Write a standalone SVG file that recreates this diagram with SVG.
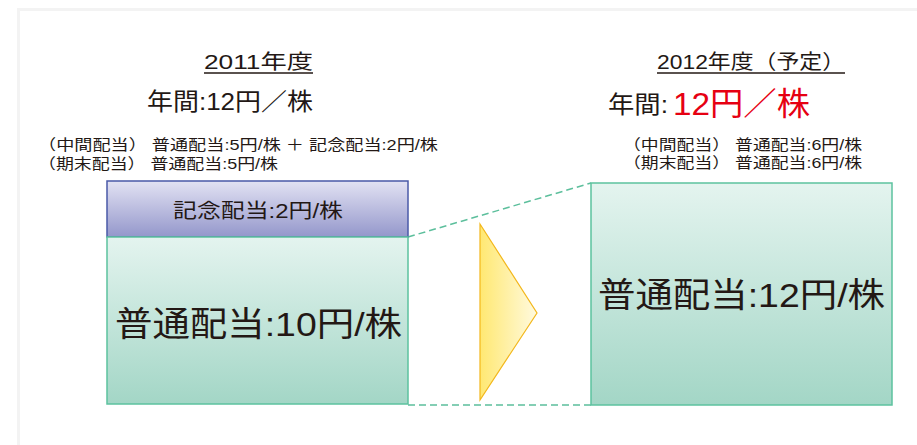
<svg xmlns="http://www.w3.org/2000/svg" width="917" height="445" viewBox="0 0 917 445">
  <defs>
    <linearGradient id="gPurple" x1="0" y1="0" x2="0" y2="1">
      <stop offset="0" stop-color="#e2e2f3"/>
      <stop offset="1" stop-color="#9497cb"/>
    </linearGradient>
    <linearGradient id="gGreen" x1="0" y1="0" x2="0" y2="1">
      <stop offset="0" stop-color="#e4f4ef"/>
      <stop offset="1" stop-color="#a3d6c6"/>
    </linearGradient>
    <linearGradient id="gYellow" x1="0" y1="0" x2="1" y2="0">
      <stop offset="0" stop-color="#ffe872"/>
      <stop offset="1" stop-color="#fffadf"/>
    </linearGradient>
    <style>
      text { font-family: "Liberation Sans", "Noto Sans CJK JP", sans-serif; fill: #231815; }
      .red { fill: #e60012; }
      .ul { stroke: #231815; stroke-width: 1.6; }
      .green { fill: url(#gGreen); stroke: #5cc29f; stroke-width: 1.5; }
      .purple { fill: url(#gPurple); stroke: #4a5aa8; stroke-width: 1.5; }
      .dash { stroke: #5cbf9c; stroke-width: 1.5; stroke-dasharray: 7 4; fill: none; }
    </style>
  </defs>

  <rect x="0" y="0" width="917" height="445" fill="#ffffff"/>
  <rect x="17" y="8" width="900" height="437" fill="#f3f3f3"/>
  <rect x="20" y="11" width="897" height="434" fill="#ffffff"/>

  <g id="title-2011">
    <text x="204" y="69" font-size="20" textLength="109" lengthAdjust="spacingAndGlyphs">2011年度</text>
    <line class="ul" x1="204" y1="73" x2="313" y2="73"/>
    <text x="147" y="110" font-size="24" textLength="166" lengthAdjust="spacingAndGlyphs">年間:12円／株</text>
    <text x="38" y="150" font-size="15" textLength="400" lengthAdjust="spacingAndGlyphs">（中間配当） 普通配当:5円/株 ＋ 記念配当:2円/株</text>
    <text x="38" y="169" font-size="15" textLength="240" lengthAdjust="spacingAndGlyphs">（期末配当） 普通配当:5円/株</text>
  </g>

  <g id="title-2012">
    <text x="657" y="69" font-size="20" textLength="188" lengthAdjust="spacingAndGlyphs">2012年度（予定）</text>
    <line class="ul" x1="657" y1="73" x2="845" y2="73"/>
    <text x="608" y="113" font-size="24" textLength="60" lengthAdjust="spacingAndGlyphs">年間:</text>
    <text class="red" x="673" y="115" font-size="32" textLength="137" lengthAdjust="spacingAndGlyphs">12円／株</text>
    <text x="623" y="150" font-size="15" textLength="239" lengthAdjust="spacingAndGlyphs">（中間配当） 普通配当:6円/株</text>
    <text x="623" y="168" font-size="15" textLength="239" lengthAdjust="spacingAndGlyphs">（期末配当） 普通配当:6円/株</text>
  </g>

  <g id="connectors">
    <line class="dash" x1="408" y1="237" x2="591" y2="183"/>
    <line class="dash" x1="408" y1="405" x2="591" y2="405"/>
  </g>

  <g id="box-kinen-2011">
    <rect class="purple" x="107" y="181" width="301" height="56"/>
    <text x="173" y="218" font-size="20" textLength="170" lengthAdjust="spacingAndGlyphs">記念配当:2円/株</text>
  </g>

  <g id="box-futsu-2011">
    <rect class="green" x="107" y="237" width="301" height="167"/>
    <text x="115" y="336" font-size="34" textLength="287" lengthAdjust="spacingAndGlyphs">普通配当:10円/株</text>
  </g>

  <g id="arrow">
    <polygon points="480,224 537,313 480,400" fill="url(#gYellow)" stroke="#f3b71b" stroke-width="1.2"/>
  </g>

  <g id="box-futsu-2012">
    <rect class="green" x="591" y="183" width="301" height="222"/>
    <text x="598" y="307" font-size="34" textLength="287" lengthAdjust="spacingAndGlyphs">普通配当:12円/株</text>
  </g>
</svg>
